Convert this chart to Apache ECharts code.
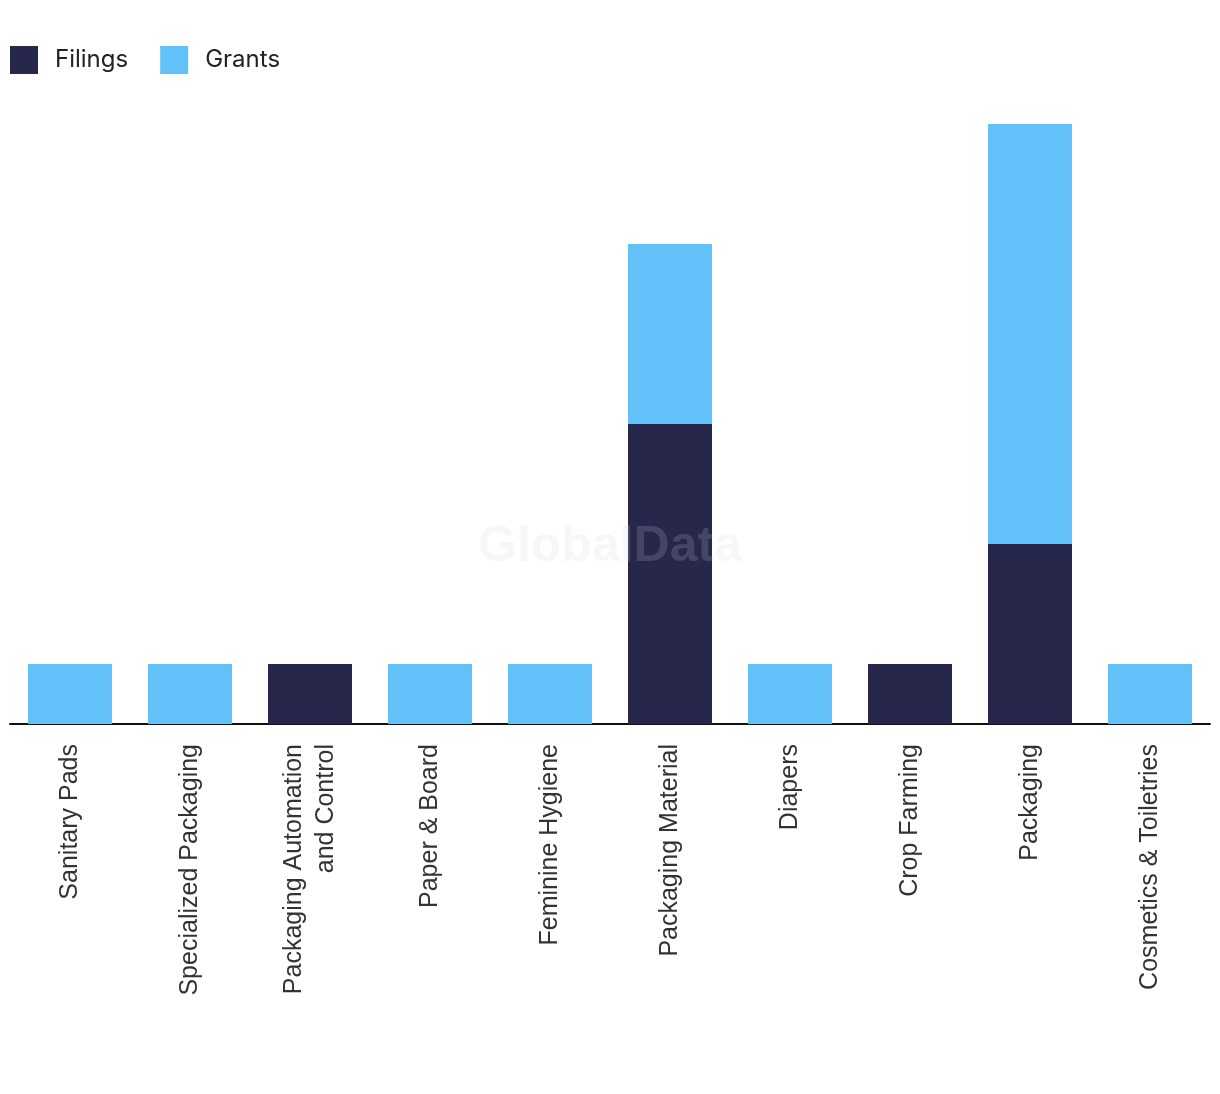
<!DOCTYPE html>
<html><head><meta charset="utf-8">
<script src="https://cdn.jsdelivr.net/npm/echarts@6/dist/echarts.min.js"></script>
<style>html,body{margin:0;padding:0;background:#fff}#c{width:1220px;height:1094px}</style>
</head><body><div id="c"></div>
<script>
const categories = ["Sanitary Pads","Specialized Packaging","Packaging Automation\nand Control","Paper & Board","Feminine Hygiene","Packaging Material","Diapers","Crop Farming","Packaging","Cosmetics & Toiletries"];
const filings = [0,0,1,0,0,5,0,1,3,0];
const grants = [1,1,0,1,1,3,1,0,7,1];

const chart = echarts.init(document.getElementById('c'));
chart.setOption({
  animation:false,
  backgroundColor:'#fff',
  legend:{left:10, top:46, padding:0, itemWidth:28, itemHeight:28, itemGap:32, icon:'rect',
    textStyle:{fontSize:24, color:'#222', fontFamily:'Inter, Liberation Sans, sans-serif', padding:[0,0,0,12]},
    data:['Filings','Grants']},
  grid:{left:10, right:10, top:124, bottom:370, containLabel:false},
  xAxis:{type:'category', data:categories,
    axisLine:{lineStyle:{color:'#111', width:2}}, axisTick:{show:false},
    axisLabel:{rotate:90, interval:0, margin:20, fontSize:25, color:'#333', fontFamily:'Liberation Sans, Arial, sans-serif', lineHeight:32}},
  yAxis:{type:'value', min:0, max:10, show:false, splitLine:{show:false}},
  graphic:[{type:'text', left:'center', top:522, z:100,
    style:{text:'GlobalData', fontSize:50, fontWeight:'bold', fontFamily:'Liberation Sans, Arial, sans-serif', fill:'rgba(210,210,220,0.18)'}}],
  series:[
    {name:'Filings', type:'bar', stack:'a', data:filings, barWidth:'70%', itemStyle:{color:'#27274b'}},
    {name:'Grants', type:'bar', stack:'a', data:grants, barWidth:'70%', itemStyle:{color:'#63c1f9'}}
  ]
});
</script></body></html>
